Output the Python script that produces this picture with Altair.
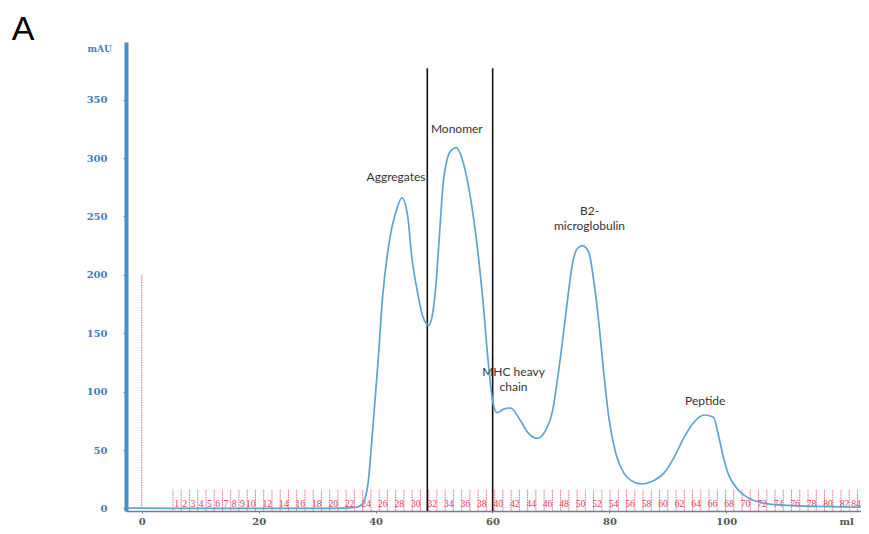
import altair as alt
import pandas as pd

# UV trace (ml, mAU)
trace_ml = [-2.5, 5, 20, 30, 35, 36.8, 37.8, 38.7, 39.5, 40.4, 41.2, 42.4, 43.6, 44.5, 45.5, 46.2,
            47.1, 48.1, 49.1, 49.7, 50.3, 50.9, 51.5, 52.3, 53.0, 53.8, 55.0, 56.2, 57.4, 58.4,
            59.3, 60.1, 60.8, 61.9, 63.1, 64.8, 66.2, 67.7, 69.1, 70.3, 71.1, 72.0, 72.9, 73.7,
            74.6, 75.4, 76.5, 77.3, 78.2, 79.0, 79.9, 81.1, 82.5, 83.7, 85.4, 87.6, 89.3, 91.1,
            92.8, 94.5, 96.2, 97.8, 98.6, 99.5, 100.3, 101.7, 103.8, 106.0, 109.0, 113.4, 118.0, 123.0]
trace_mau = [0.3, 0, 0, 0, 0.3, 1, 4.3, 21, 67, 124, 181, 230, 256, 266, 250, 215,
             187, 164, 157, 165, 190, 232, 275, 300, 307, 309, 296, 267, 224, 176,
             124, 90, 82, 85, 86, 75, 64, 60, 67, 84, 110, 144, 181, 210,
             223, 225, 219, 196, 159, 118, 78, 47, 30, 24, 21, 24, 30, 44,
             61, 74, 80, 78, 64, 44, 30, 18, 9, 5, 3, 2, 1.5, 1]

# pooled-fraction boundaries (black lines), ml
cut_ml = [48.85, 60.03]
cut_top = 377

# injection mark
inject_ml = [0]
inject_top = 200

# fraction collector
frac_first_ml = 5.34
frac_width_ml = 1.411
frac_numbers = list(range(1, 85))
frac_labels = list(range(1, 11)) + list(range(12, 85, 2))
frac_tick_top = 16

# peak annotations
ann_text = ["Aggregates", "Monomer", "B2-", "microglobulin", "MHC heavy", "chain", "Peptide"]
ann_ml = [43.5, 53.9, 76.6, 76.6, 63.6, 63.6, 96.4]
ann_mau = [284, 325, 255, 242, 117, 104, 92]

# axis ticks
y_ticks = [0, 50, 100, 150, 200, 250, 300, 350]
x_ticks = [0, 20, 40, 60, 80, 100]

X_DOM = [-2.7, 123.05]
Y_DOM = [-2.2, 399.4]

xs = alt.Scale(domain=X_DOM, nice=False, zero=False)
ys = alt.Scale(domain=Y_DOM, nice=False, zero=False)

trace_df = pd.DataFrame({"ml": trace_ml, "mAU": trace_mau})
cut_df = pd.DataFrame({"ml": cut_ml, "y0": [Y_DOM[0]] * len(cut_ml), "y1": [cut_top] * len(cut_ml)})
inj_df = pd.DataFrame({"ml": inject_ml, "y0": [0], "y1": [inject_top]})
tick_df = pd.DataFrame({"ml": [frac_first_ml + (n - 1) * frac_width_ml for n in frac_numbers],
                        "y0": -2, "y1": frac_tick_top})
flab_df = pd.DataFrame({"ml": [min(frac_first_ml + (n - 1) * frac_width_ml + 0.6, 122.2) for n in frac_labels],
                        "mAU": 4.0, "t": [str(n) for n in frac_labels]})
ann_df = pd.DataFrame({"t": ann_text, "ml": ann_ml, "mAU": ann_mau})

x_axis = alt.Axis(values=x_ticks, title=None, grid=False, domainColor="#6f7f96", domainWidth=1.4,
                  tickColor="#6f7f96", tickSize=2, labelColor="#555555", labelFont="DejaVu Serif",
                  labelFontSize=10, labelFontWeight="bold", labelPadding=3)
y_axis = alt.Axis(values=y_ticks, title=None, grid=False, domainColor="#4a8fc6", domainWidth=4,
                  tickColor="#4a8fc6", tickSize=3, labelColor="#3d7fb8", labelFont="DejaVu Serif",
                  labelFontSize=10, labelFontWeight="bold", labelPadding=16)

base_x = alt.X("ml:Q", scale=xs, axis=x_axis)
base_y = alt.Y("mAU:Q", scale=ys, axis=y_axis)

frac_ticks = alt.Chart(tick_df).mark_rule(color="#e0506e", strokeWidth=0.9, strokeDash=[1.5, 1]).encode(
    x=alt.X("ml:Q", scale=xs), y=alt.Y("y0:Q", scale=ys), y2="y1:Q")
frac_text = alt.Chart(flab_df).mark_text(color="#d9405f", font="Liberation Serif", fontSize=9.5,
                                         baseline="middle").encode(
    x=alt.X("ml:Q", scale=xs), y=alt.Y("mAU:Q", scale=ys), text="t:N")
inject = alt.Chart(inj_df).mark_rule(color="#e0607e", strokeWidth=1, strokeDash=[1.5, 1]).encode(
    x=alt.X("ml:Q", scale=xs), y=alt.Y("y0:Q", scale=ys), y2="y1:Q")
cuts = alt.Chart(cut_df).mark_rule(color="#111111", strokeWidth=1.6).encode(
    x=alt.X("ml:Q", scale=xs), y=alt.Y("y0:Q", scale=ys), y2="y1:Q")
line = alt.Chart(trace_df).mark_line(color="#5fa3d0", strokeWidth=1.7, interpolate="monotone").encode(
    x=base_x, y=base_y)
ann = alt.Chart(ann_df).mark_text(font="Lato", fontSize=12, color="#333333", baseline="middle").encode(
    x=alt.X("ml:Q", scale=xs), y=alt.Y("mAU:Q", scale=ys), text="t:N")

extra_df = pd.DataFrame({"t": ["ml"], "ml": [120.6], "mAU": [-11.5]})
extra = alt.Chart(extra_df).mark_text(font="DejaVu Serif", fontSize=10, fontWeight="bold",
                                      color="#555555", baseline="middle").encode(
    x=alt.X("ml:Q", scale=xs), y=alt.Y("mAU:Q", scale=ys), text="t:N")
mau_df = pd.DataFrame({"t": ["mAU"], "ml": [-7.2], "mAU": [393]})
mau = alt.Chart(mau_df).mark_text(font="DejaVu Serif", fontSize=9, fontWeight="bold",
                                  color="#3d7fb8", baseline="middle").encode(
    x=alt.X("ml:Q", scale=xs), y=alt.Y("mAU:Q", scale=ys), text="t:N")
panel_df = pd.DataFrame({"t": ["A"], "ml": [-20.3], "mAU": [401.2]})
panel = alt.Chart(panel_df).mark_text(font="Liberation Sans", fontSize=34, color="#000000",
                                      baseline="alphabetic").encode(
    x=alt.X("ml:Q", scale=xs), y=alt.Y("mAU:Q", scale=ys), text="t:N")

chart = alt.layer(frac_ticks, frac_text, inject, cuts, line, ann, extra, mau, panel).properties(
    width=735, height=469,
    autosize=alt.AutoSizeParams(type="none"),
    padding={"left": 118, "top": 34, "right": 0, "bottom": 15},
    background="white",
).configure_view(stroke=None)

chart.save("out.html", embed_options={"renderer": "svg", "actions": False})
